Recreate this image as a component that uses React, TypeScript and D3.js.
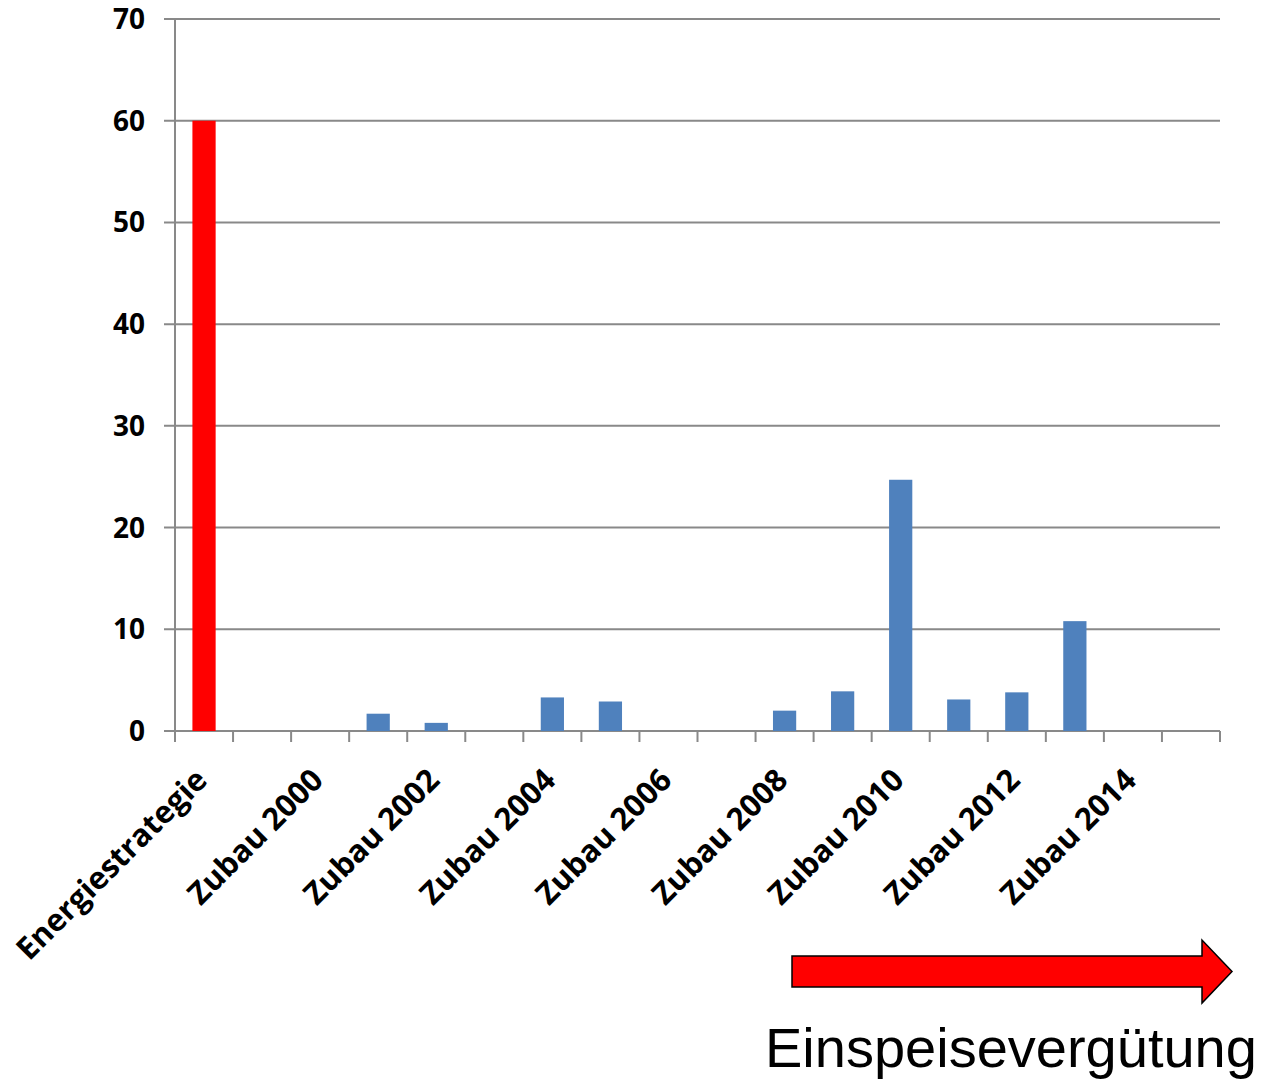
import React from "react";
import * as d3 from "d3";

const categories: string[] = [
  "Energiestrategie", "", "Zubau 2000", "Zubau 2001", "Zubau 2002", "Zubau 2003",
  "Zubau 2004", "Zubau 2005", "Zubau 2006", "Zubau 2007", "Zubau 2008", "Zubau 2009",
  "Zubau 2010", "Zubau 2011", "Zubau 2012", "Zubau 2013", "Zubau 2014", "Zubau 2015",
];
const values: number[] = [60, 0, 0, 1.7, 0.8, 0, 3.3, 2.9, 0, 0, 2.0, 3.9, 24.7, 3.1, 3.8, 10.8, 0, 0];
const yTicks: number[] = [0, 10, 20, 30, 40, 50, 60, 70];
const shownLabels: string[] = [
  "Energiestrategie", "Zubau 2000", "Zubau 2002", "Zubau 2004", "Zubau 2006",
  "Zubau 2008", "Zubau 2010", "Zubau 2012", "Zubau 2014",
];
const arrowLabel = "Einspeisevergütung";

const W = 1281;
const H = 1081;
const left = 175;
const right = 1220;
const top = 19;
const bottom = 731;
const grey = "#898989";

export default function App() {
  const x = d3.scaleBand<number>()
    .domain(d3.range(categories.length))
    .range([left, right])
    .paddingInner(0.6)
    .paddingOuter(0.3);
  const y = d3.scaleLinear().domain([0, 70]).range([bottom, top]);
  const step = x.step();
  const bw = x.bandwidth();
  const boundaries = d3.range(categories.length + 1).map((i) => left + step * i);

  return (
    <svg width={W} height={H} style={{ position: "absolute", left: 0, top: 0, background: "#fff" }}>
      {yTicks.map((t) => (
        <line key={"g" + t} x1={164} x2={right} y1={y(t)} y2={y(t)} stroke={grey} strokeWidth={2} />
      ))}
      <line x1={left} x2={left} y1={top} y2={bottom + 11} stroke={grey} strokeWidth={2} />
      {boundaries.map((bx, i) => (
        <line key={"t" + i} x1={bx} x2={bx} y1={bottom} y2={bottom + 11} stroke={grey} strokeWidth={2} />
      ))}
      {values.map((v, i) => (
        v > 0 ? (
          <rect key={"b" + i} x={x(i)!} y={y(v)} width={bw} height={y(0) - y(v)}
            fill={i === 0 ? "#FF0000" : "#4F81BD"} />
        ) : null
      ))}
      {yTicks.map((t) => (
        <text key={"yl" + t} x={145} y={y(t) + 10} textAnchor="end"
          fontFamily="'Open Sans', sans-serif" fontWeight="bold" fontSize={28} fill="#000">
          {t}
        </text>
      ))}
      {categories.map((c, i) => (
        shownLabels.includes(c) ? (
          <text key={"xl" + i} transform={`translate(${x(i)! + bw / 2 + 5},${782}) rotate(-45)`}
            textAnchor="end" fontFamily="'Open Sans', sans-serif" fontWeight="bold" fontSize={31} fill="#000">
            {c}
          </text>
        ) : null
      ))}
      <path d="M792,956 L1202,956 L1202,940 L1232,971.5 L1202,1003 L1202,987 L792,987 Z"
        fill="#FF0000" stroke="#000" strokeWidth={1.5} />
      <text x={765} y={1067} fontFamily="'Liberation Sans', Arial, sans-serif" fontSize={56}
        fill="#000">
        {arrowLabel}
      </text>
    </svg>
  );
}
